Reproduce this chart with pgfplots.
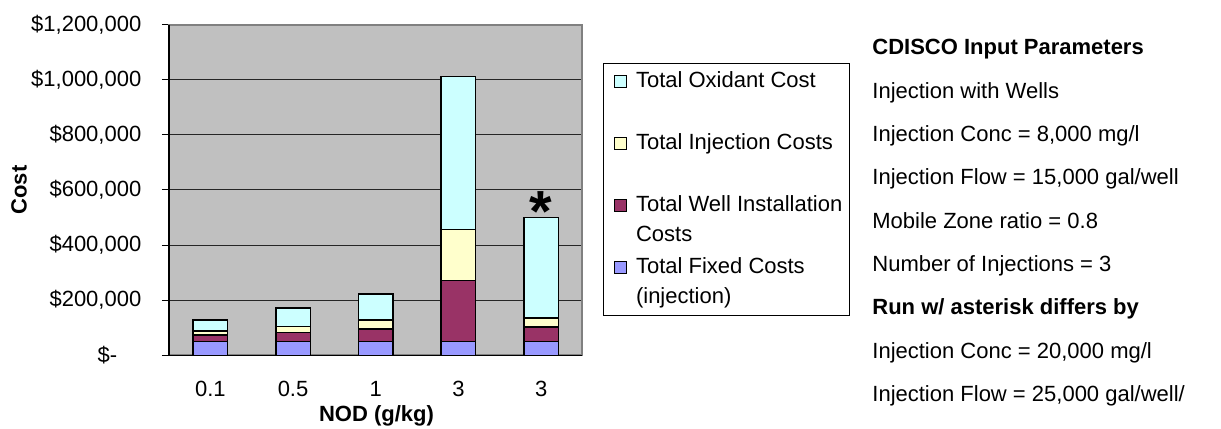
\documentclass[border=0pt]{standalone}
\usepackage{fontspec}
\setmainfont{Liberation Sans}
\usepackage{pgfplots}
\pgfplotsset{compat=1.18}
\usepackage{pgfplotstable}
\definecolor{bgGray}{HTML}{C0C0C0}
\definecolor{cFixed}{HTML}{9999FF}
\definecolor{cWell}{HTML}{993366}
\definecolor{cInj}{HTML}{FFFFCC}
\definecolor{cOx}{HTML}{CCFFFF}
\pgfplotstableread{
x fixed well inj ox
0 50000 24000 15000 40000
1 50000 32000 22000 67000
2 50000 45000 34000 94000
3 50000 222000 185000 555000
4 50000 52000 33000 365000
}\costdata
\newcommand{\fs}{\fontsize{11bp}{13.2bp}\selectfont}
\newcommand{\lgtxt}[2]{\hspace*{4.65bp}\parbox[t]{104.5bp}{\fontsize{11bp}{15bp}\selectfont\strut #1\\\strut #2}}
\begin{document}
\begin{tikzpicture}
\useasboundingbox (0,0) rectangle (610.5bp,214.5bp);
\begin{axis}[
  at={(84.5bp,36.85bp)}, anchor=south west,
  scale only axis, width=206.75bp, height=165.3bp,
  ybar stacked, bar width=17.25bp,
  xmin=-0.5, xmax=4.5, ymin=0, ymax=1200000,
  xtick={0,1,2,3,4}, xticklabels={0.1,0.5,1,3,3},
  x tick style={draw=none},
  minor xtick={-0.5,0.5,1.5,2.5,3.5,4.5},
  minor x tick style={black, line width=0.5bp},
  minor tick length=4bp,
  ytick={0,200000,400000,600000,800000,1000000,1200000},
  yticklabels={{\$-\hspace*{12bp}},{\$200,000},{\$400,000},{\$600,000},{\$800,000},{\$1,000,000},{\$1,200,000}},
  scaled y ticks=false,
  y tick style={black, line width=0.5bp},
  major tick length=3.5bp,
  tick align=outside,
  xtick pos=bottom, ytick pos=left,
  tick label style={font=\fs},
  xticklabel style={anchor=base, yshift=-17.0bp},
  yticklabel style={anchor=east, inner sep=0pt, xshift=-10.15bp},
  xlabel={NOD (g/kg)},
  ylabel={Cost},
  label style={font=\fs\bfseries},
  xlabel style={at={(axis description cs:0.5018,-0.2008)}, anchor=base},
  ylabel style={at={(axis description cs:-0.3628,0.5)}, anchor=center},
  axis background/.style={fill=bgGray},
  axis line style={draw=gray, line width=1bp},
  ymajorgrids,
  major grid style={black!85, line width=0.5bp},
  legend style={at={(1.0503,0.8833)}, anchor=north west, draw=black, line width=0.5bp, fill=white,
    inner xsep=2bp, inner ysep=1.2bp, row sep=1.1bp,
    nodes={inner sep=0pt, text height=10.5bp, text depth=19.5bp}, cells={anchor=base west}},
  reverse legend,
  legend image code/.code={\path (0bp,0bp); \draw[#1, line width=0.5bp] (2.85bp,0bp) rectangle (8.85bp,6bp);},
  after end axis/.code={\draw[black, line width=0.75bp] (rel axis cs:0,1) -- (rel axis cs:0,0) -- (rel axis cs:1,0);},
]
\addplot[fill=cFixed, draw=black, line width=0.75bp] table[x=x, y=fixed] {\costdata};
\addlegendentry{\lgtxt{Total Fixed Costs}{(injection)}}
\addplot[fill=cWell, draw=black, line width=0.75bp] table[x=x, y=well] {\costdata};
\addlegendentry{\lgtxt{Total Well Installation}{Costs}}
\addplot[fill=cInj, draw=black, line width=0.75bp] table[x=x, y=inj] {\costdata};
\addlegendentry{\lgtxt{Total Injection Costs}{}}
\addplot[fill=cOx, draw=black, line width=0.75bp] table[x=x, y=ox] {\costdata};
\addlegendentry{\lgtxt{Total Oxidant Cost}{}}
\node[anchor=north, inner sep=0pt, yshift=13bp, font=\fontsize{29bp}{29bp}\selectfont\bfseries] at (axis cs:4,500000) {*};
\end{axis}
\node[anchor=base west, inner sep=0pt] at (436bp,187bp) {\parbox[t]{190bp}{\fontsize{11bp}{21.65bp}\selectfont
\textbf{CDISCO Input Parameters}\\
Injection with Wells\\
Injection Conc = 8,000 mg/l\\
Injection Flow = 15,000 gal/well\\
Mobile Zone ratio = 0.8\\
Number of Injections = 3\\
\textbf{Run w/ asterisk differs by}\\
Injection Conc = 20,000 mg/l\\
Injection Flow = 25,000 gal/well/}};
\end{tikzpicture}
\end{document}
